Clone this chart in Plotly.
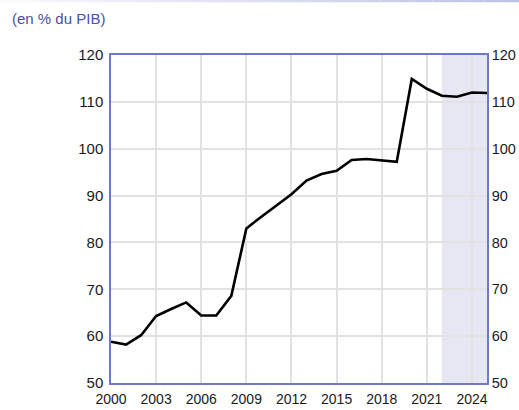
import plotly.graph_objects as go

years = list(range(2000, 2026))
debt = [58.8, 58.2, 60.2, 64.3, 65.8, 67.2, 64.4, 64.4, 68.6, 83.0, 85.5, 87.9,
        90.3, 93.2, 94.6, 95.3, 97.6, 97.8, 97.5, 97.2, 114.9, 112.8, 111.3, 111.1, 112.0, 111.9]
x_ticks = [2000, 2003, 2006, 2009, 2012, 2015, 2018, 2021, 2024]
y_ticks = [50, 60, 70, 80, 90, 100, 110, 120]
forecast_start = 2022
forecast_end = 2025
unit_label = "(en % du PIB)"

axis_col = "#6f78c4"
grid_col = "#e2e2e2"
font_fam = "Liberation Sans, Arial, sans-serif"

fig = go.Figure()
fig.add_trace(go.Scatter(x=years, y=debt, mode="lines",
                         line=dict(color="black", width=2.6), showlegend=False,
                         hoverinfo="skip"))
fig.add_trace(go.Scatter(x=years, y=debt, mode="lines", yaxis="y2",
                         line=dict(color="rgba(0,0,0,0)", width=0), showlegend=False,
                         hoverinfo="skip"))

fig.add_shape(type="rect", xref="x", yref="paper", x0=forecast_start, x1=forecast_end,
              y0=0, y1=1, fillcolor="#e7e7f3", line=dict(width=0), layer="below")

# gradient line at very top
n = 30
for i in range(n):
    t = i / (n - 1)
    r = int(250 - t * (250 - 190))
    g = int(250 - t * (250 - 194))
    b = int(253 - t * (253 - 228))
    fig.add_shape(type="line", xref="paper", yref="paper",
                  x0=-111 / 376 + i * (519 / 376) / n, x1=-111 / 376 + (i + 1) * (519 / 376) / n,
                  y0=1 + 54 / 328, y1=1 + 54 / 328,
                  line=dict(color=f"rgb({r},{g},{b})", width=2.5))

fig.add_annotation(text=unit_label, xref="paper", yref="paper",
                   x=-101 / 376, y=1 + 37 / 328, xanchor="left", yanchor="middle",
                   showarrow=False, font=dict(size=15, color="#4a4fa3", family=font_fam))

fig.update_layout(
    width=519, height=410,
    margin=dict(l=111, r=32, t=55, b=27),
    paper_bgcolor="white", plot_bgcolor="rgba(0,0,0,0)",
    font=dict(family=font_fam, color="#1a1a1a"),
    xaxis=dict(range=[2000, 2025], tickvals=x_ticks, ticktext=[str(v) for v in x_ticks],
               showgrid=True, gridcolor=grid_col, gridwidth=1.5,
               showline=True, linecolor=axis_col, linewidth=1.5, mirror=True,
               ticks="", tickfont=dict(size=14), zeroline=False, automargin=False,
               ticklabelstandoff=2),
    yaxis=dict(range=[50, 120], tickvals=y_ticks, showgrid=True, gridcolor=grid_col,
               gridwidth=1.5, showline=True, linecolor=axis_col, linewidth=1.5,
               ticks="", tickfont=dict(size=15), zeroline=False, ticklabelstandoff=3,
               automargin=False),
    yaxis2=dict(range=[50, 120], tickvals=y_ticks, overlaying="y", side="right",
                showgrid=False, showline=True, linecolor=axis_col, linewidth=1.5,
                ticks="", tickfont=dict(size=14.5), zeroline=False, ticklabelstandoff=0,
                automargin=False),
)

fig.write_html("out.html", config={"displayModeBar": False},
               post_script="document.body.style.margin='0px';")
